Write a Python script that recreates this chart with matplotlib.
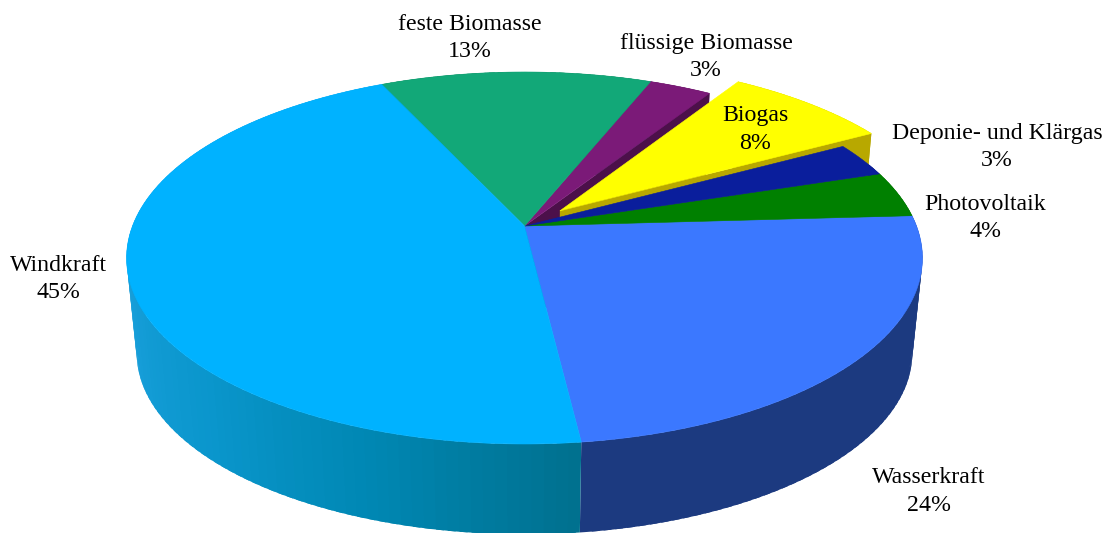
import matplotlib
matplotlib.use("Agg")
import matplotlib.pyplot as plt
import numpy as np
from matplotlib.colors import to_rgb

# anticlockwise, starting at the front edge of Wasserkraft
names = ["Wasserkraft", "Photovoltaik", "Deponie- und Klärgas", "Biogas",
         "flüssige Biomasse", "feste Biomasse", "Windkraft"]
shares = [24, 4, 3, 8, 3, 13, 45]

top_colors = ["#3b78ff", "#008000", "#0a1e9c", "#ffff00",
              "#7b1a78", "#12a878", "#00b2ff"]
wall_colors = ["#1c3a80", "#005000", "#06125e", "#b8a800",
               "#4c104a", "#0b6a4c", "#0a96cc"]
label_pos = [(929, 491.5), (985, 218), (997, 147), (755, 129.5),
             (706, 57), (470, 38), (58, 279)]

start_angle = -83.1
explode = {3: 0.125}

# perspective of the disc, worked out from the outline in the picture
K = 0.172
CX = 524.5
TOP = {"cy": 226, "r": 392, "h": 180.5}
BOTTOM = {"cy": 322, "r": 382, "h": 175.8}


def project(u, v, plane):
    w = 1 + K * v
    return CX + plane["r"] * u / w, plane["cy"] - plane["h"] * v / w


def rim(a0, a1, off, plane):
    ang = np.radians(np.arange(a0, a1, 0.5).tolist() + [a1])
    return project(np.cos(ang) + off[0], np.sin(ang) + off[1], plane)


def wedge(a0, a1, off, plane):
    x, y = rim(a0, a1, off, plane)
    x0, y0 = project(off[0], off[1], plane)
    return np.r_[x0, x], np.r_[y0, y]


def wind_wall(a):
    stops = [190, 225, 250, 277]
    cols = np.array([to_rgb(c) for c in ["#1aa0dc", "#0a96cc", "#0088b4", "#00708e"]])
    return [np.interp(a, stops, cols[:, i]) for i in range(3)]


def draw_wall(ax, a0, a1, off, color):
    # each strip runs a bit under the next one so no seams show
    edges = np.r_[np.arange(a0, a1, 1.5), a1]
    for a, b in zip(edges[:-1], edges[1:]):
        xt, yt = rim(a, min(b + 1, a1), off, TOP)
        xb, yb = rim(a, min(b + 1, a1), off, BOTTOM)
        c = color((a + b) / 2) if callable(color) else color
        ax.fill(np.r_[xt, xb[::-1]], np.r_[yt, yb[::-1]], color=c, lw=0)


def draw_cut(ax, a, off, color):
    xt, yt = wedge(a, a, off, TOP)
    xb, yb = wedge(a, a, off, BOTTOM)
    ax.fill(np.r_[xt, xb[::-1]], np.r_[yt, yb[::-1]], color=color, lw=0)


fig = plt.figure(figsize=(11.11, 5.33), dpi=100)
ax = fig.add_axes([0, 0, 1, 1])
ax.set_xlim(0, 1111)
ax.set_ylim(533, 0)
ax.axis("off")

fracs = np.cumsum([0] + shares) / sum(shares) * 360 + start_angle
slices = []
for i in range(len(shares)):
    a0, a1 = fracs[i], fracs[i + 1]
    mid = np.radians((a0 + a1) / 2)
    e = explode.get(i, 0)
    slices.append((i, a0, a1, (e * np.cos(mid), e * np.sin(mid))))

# outer walls of the front slices
for i, a0, a1, off in slices:
    if i == 6:
        draw_wall(ax, a0, a1, off, wind_wall)
    elif not explode.get(i):
        draw_wall(ax, a0, a1, off, wall_colors[i])

# the gap around the pulled out slice shows its faces and the neighbour's
for i, a0, a1, off in slices:
    if i - 1 in explode:
        draw_cut(ax, a0, off, wall_colors[i])
for i, a0, a1, off in slices:
    if explode.get(i):
        draw_wall(ax, a0, a1, off, wall_colors[i])
        draw_cut(ax, a0, off, wall_colors[i])

# top faces
for i, a0, a1, off in slices:
    x, y = wedge(a0, a1, off, TOP)
    ax.fill(x, y, color=top_colors[i], lw=0.4)

for name, share, (lx, ly) in zip(names, shares, label_pos):
    ax.text(lx, ly, f"{name}\n{share}%", ha="center", va="center", fontsize=17.2,
            family="Liberation Serif", color="black", linespacing=1.38)

fig.savefig("out.png", dpi=100)
plt.close()
